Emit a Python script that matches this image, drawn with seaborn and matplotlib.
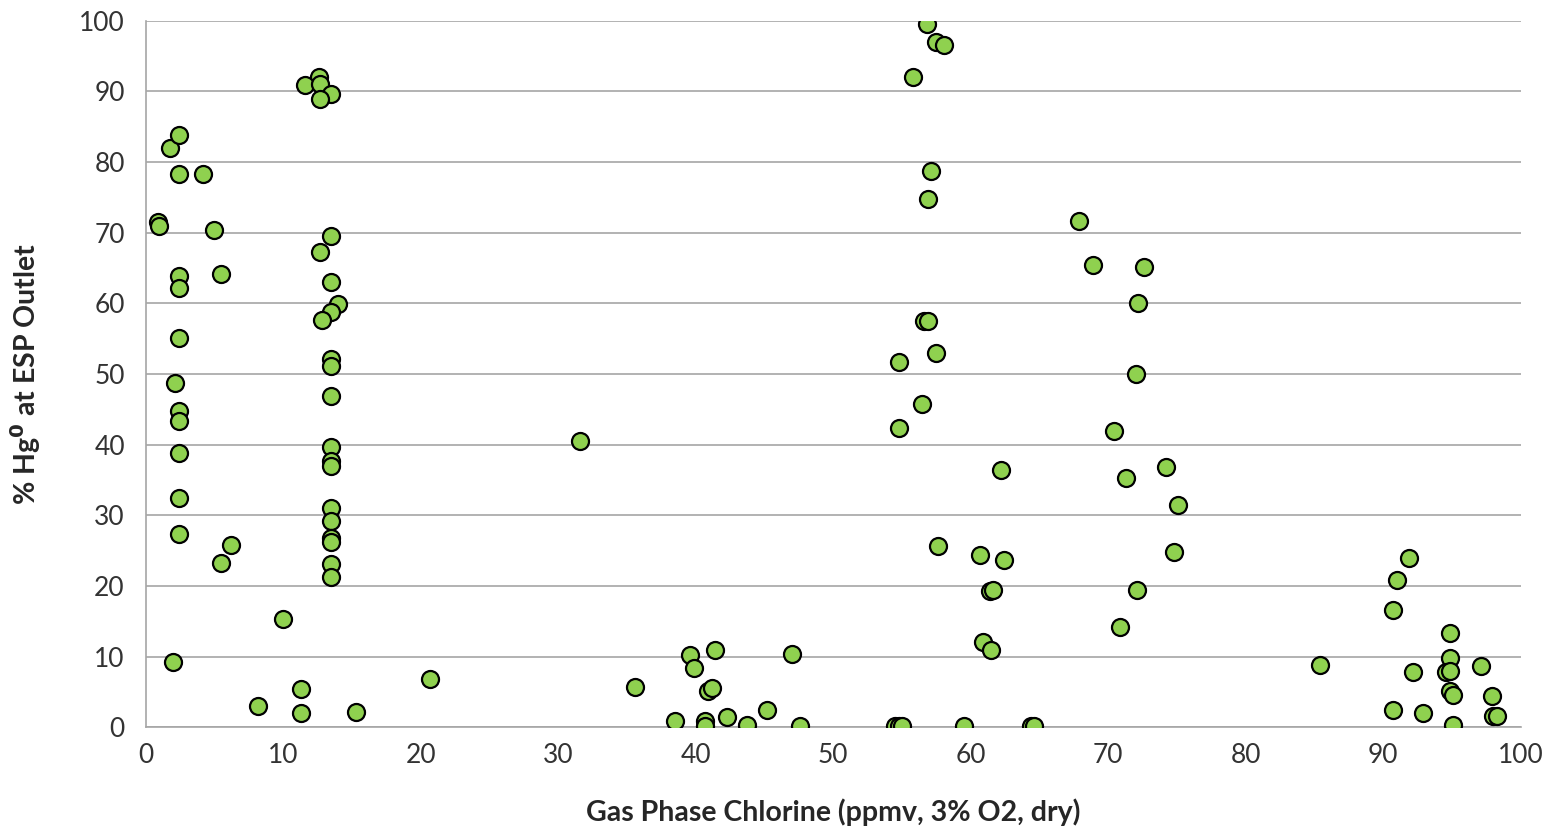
import matplotlib
matplotlib.use("Agg")
import matplotlib.pyplot as plt
import pandas as pd
import seaborn as sns

# chlorine (ppmv) and % Hg0 at ESP outlet
chlorine = [
    # low chlorine group (~0-21 ppmv)
    0.9, 1.0, 1.8, 2.4, 2.4, 4.2, 5.0, 5.5, 2.4, 2.4, 2.4, 2.1, 2.4, 2.4,
    2.4, 2.4, 2.4, 6.2, 5.5, 2.0, 10.0, 8.2, 11.3, 11.3, 15.3, 20.7,
    # ~13 ppmv column
    12.6, 11.6, 12.7, 13.5, 12.7, 13.5, 12.7, 13.5, 14.0, 13.5, 12.8, 13.5,
    13.5, 13.5, 13.5, 13.5, 13.5, 13.5, 13.5, 13.5, 13.5, 13.5, 13.5,
    # outlier
    31.6,
    # 35-65 ppmv, low Hg0
    35.6, 38.5, 39.6, 39.9, 41.4, 40.9, 41.2, 40.7, 40.7, 42.3, 43.7, 45.2,
    47.0, 47.6, 54.5, 54.8, 55.0, 59.5, 64.4, 64.6,
    # ~55-62 ppmv column
    56.8, 57.5, 58.1, 55.8, 57.1, 56.9, 56.6, 56.9, 57.5, 54.8, 56.5, 54.8,
    62.2, 57.6, 60.7, 62.4, 61.4, 61.6, 60.9, 61.5,
    # ~68-75 ppmv column
    67.9, 68.9, 72.6, 72.2, 72.0, 70.4, 74.2, 71.3, 75.1, 74.8, 72.1, 70.9,
    # high chlorine group
    85.4, 91.9, 91.0, 90.7, 94.9, 94.9, 97.1, 92.2, 94.6, 94.9, 94.9, 95.1,
    97.9, 90.7, 92.9, 98.0, 98.3, 95.1,
]
hg0_pct = [
    71.5, 71.0, 82.0, 83.9, 78.3, 78.3, 70.4, 64.2, 63.9, 62.2, 55.1, 48.8,
    44.8, 43.3, 38.8, 32.5, 27.3, 25.8, 23.2, 9.2, 15.3, 3.0, 5.4, 2.0,
    2.1, 6.9,
    92.1, 90.9, 91.1, 89.6, 89.0, 69.5, 67.3, 63.0, 59.9, 58.8, 57.6, 52.1,
    51.1, 46.9, 39.7, 37.7, 37.0, 31.0, 29.2, 26.8, 26.2, 23.1, 21.3,
    40.5,
    5.7, 0.9, 10.2, 8.4, 11.0, 5.1, 5.5, 0.9, 0.2, 1.4, 0.3, 2.4,
    10.3, 0.2, 0.2, 0.2, 0.2, 0.2, 0.2, 0.2,
    99.6, 97.0, 96.6, 92.1, 78.8, 74.8, 57.5, 57.5, 53.0, 51.7, 45.8, 42.4,
    36.4, 25.6, 24.4, 23.7, 19.3, 19.4, 12.0, 11.0,
    71.7, 65.4, 65.2, 60.1, 50.0, 41.9, 36.8, 35.3, 31.4, 24.8, 19.4, 14.2,
    8.8, 23.9, 20.8, 16.6, 13.3, 9.8, 8.6, 7.8, 7.8, 7.9, 5.2, 4.5,
    4.4, 2.5, 2.0, 1.6, 1.6, 0.3,
]

df = pd.DataFrame({"chlorine": chlorine, "hg0": hg0_pct})

sns.set_style("white")
plt.rcParams["font.family"] = ["Lato", "DejaVu Sans"]

fig = plt.figure(figsize=(15.5, 8.34), dpi=100)
ax = fig.add_axes([0.094, 0.128, 0.887, 0.847])

sns.scatterplot(data=df, x="chlorine", y="hg0", ax=ax, s=150,
                color="#8fd14f", edgecolor="black", linewidth=1.6,
                zorder=3, legend=False)

ax.set_xlim(0, 100)
ax.set_ylim(0, 100)
ax.set_xticks(range(0, 101, 10))
ax.set_yticks(range(0, 101, 10))

# horizontal gridlines only, like the excel original
ax.yaxis.grid(True, color="#a6a6a6", linewidth=1.2)
ax.xaxis.grid(False)
ax.set_axisbelow(True)
for side in ["top", "right"]:
    ax.spines[side].set_visible(False)
for side in ["left", "bottom"]:
    ax.spines[side].set_color("#a6a6a6")
    ax.spines[side].set_linewidth(1.2)

ax.tick_params(axis="both", which="both", direction="out", length=7,
               width=1.2, color="#a6a6a6", labelsize=19, labelcolor="#333333")
ax.tick_params(axis="x", pad=4)
ax.tick_params(axis="y", pad=8)

ax.set_xlabel("Gas Phase Chlorine (ppmv, 3% O2, dry)", fontsize=20.5,
              fontweight="bold", labelpad=22)
ax.set_ylabel("% Hg$^\\mathbf{0}$ at ESP Outlet", fontsize=20.5,
              fontweight="bold", labelpad=26)

plt.savefig("out.png", dpi=100)
plt.close()
